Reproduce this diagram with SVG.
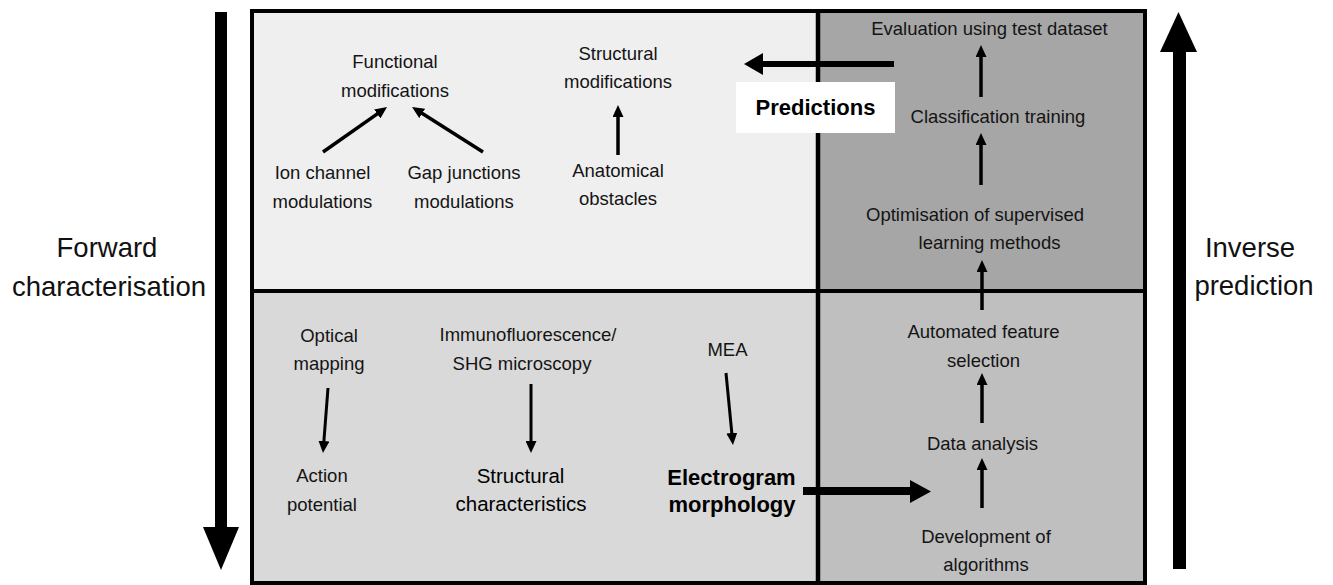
<svg xmlns="http://www.w3.org/2000/svg" width="1333" height="585" viewBox="0 0 1333 585">
<style>
.t{font-family:"Liberation Sans",Arial,sans-serif;font-size:18.5px;fill:#141414;text-anchor:middle}
.big{font-family:"Liberation Sans",Arial,sans-serif;font-size:27.5px;fill:#111;text-anchor:middle}
.ar{font-family:"Liberation Sans",Arial,sans-serif;font-size:20.5px;fill:#000;text-anchor:middle}
.arb{font-family:"Liberation Sans",Arial,sans-serif;font-size:22px;font-weight:bold;fill:#000;text-anchor:middle}
.c{stroke:#000;stroke-width:3.5;fill:none;marker-end:url(#ah)}
.c2{stroke:#000;stroke-width:3;fill:none;marker-end:url(#ah)}
</style>
<defs>
<marker id="ah" viewBox="0 0 12 11" markerWidth="12" markerHeight="11" markerUnits="userSpaceOnUse" refX="4" refY="5.5" orient="auto">
<path d="M0,0 L12,5.5 L0,11 z" fill="#000"/>
</marker>
</defs>
<rect width="1333" height="585" fill="#fff"/>
<g id="panels">
<rect x="252" y="11" width="566" height="280" fill="#efefef"/>
<rect x="818" y="11" width="327" height="280" fill="#a6a6a6"/>
<rect x="252" y="291" width="566" height="292" fill="#d9d9d9"/>
<rect x="818" y="291" width="327" height="292" fill="#bfbfbf"/>
<rect x="252" y="11" width="893" height="572" fill="none" stroke="#000" stroke-width="4"/>
<line x1="252" y1="291" x2="1145" y2="291" stroke="#000" stroke-width="4"/>
<line x1="818" y1="11" x2="818" y2="585" stroke="#000" stroke-width="4.5"/>
</g>
<g id="forward">
<rect x="215" y="12" width="12" height="517" fill="#000"/>
<polygon points="203,527 239,527 221,570" fill="#000"/>
<text class="big" x="107" y="257">Forward</text>
<text class="big" x="109" y="296">characterisation</text>
</g>
<g id="inverse">
<rect x="1173" y="50" width="13" height="519" fill="#000"/>
<polygon points="1160,52 1197,52 1178.5,12" fill="#000"/>
<text class="big" x="1250" y="257">Inverse</text>
<text class="big" x="1254" y="295">prediction</text>
</g>
<g id="connectors">
<line class="c" x1="323" y1="152" x2="380.5" y2="111.6"/>
<line class="c" x1="483" y1="152" x2="418.8" y2="111.3"/>
<line class="c" x1="618" y1="155" x2="618" y2="113"/>
<line class="c" x1="981" y1="97" x2="981" y2="53"/>
<line class="c" x1="981" y1="185" x2="981" y2="141"/>
<line class="c" x1="982" y1="310" x2="982" y2="268"/>
<line class="c" x1="982" y1="423" x2="982" y2="381"/>
<line class="c" x1="982" y1="508" x2="982" y2="466"/>
<line class="c2" x1="328" y1="388" x2="323.6" y2="445"/>
<line class="c2" x1="531" y1="384" x2="531" y2="445"/>
<line class="c2" x1="726" y1="373" x2="732.2" y2="437"/>
<rect x="762" y="61" width="132" height="6" fill="#000"/>
<polygon points="763,53 763,75 744,64" fill="#000"/>
<rect x="803" y="487" width="108" height="8" fill="#000"/>
<polygon points="910,480 910,503 931,491.5" fill="#000"/>
</g>
<g id="predictions">
<rect x="736" y="82" width="159" height="51" fill="#fff"/>
<text class="arb" x="815.5" y="115">Predictions</text>
</g>
<g id="functional"><text class="t" x="395" y="68">Functional</text><text class="t" x="395" y="97">modifications</text></g>
<g id="ion"><text class="t" x="322.5" y="179">Ion channel</text><text class="t" x="322.5" y="208">modulations</text></g>
<g id="gap"><text class="t" x="464" y="179">Gap junctions</text><text class="t" x="464" y="208">modulations</text></g>
<g id="structural-mod"><text class="t" x="618" y="60">Structural</text><text class="t" x="618" y="88">modifications</text></g>
<g id="anatomical"><text class="t" x="618" y="177">Anatomical</text><text class="t" x="618" y="205">obstacles</text></g>
<g id="evaluation"><text class="t" x="989.5" y="35">Evaluation using test dataset</text></g>
<g id="classification"><text class="t" x="998" y="123">Classification training</text></g>
<g id="optimisation"><text class="t" x="975" y="221">Optimisation of supervised</text><text class="t" x="989.5" y="249">learning methods</text></g>
<g id="automated"><text class="t" x="983.5" y="338">Automated feature</text><text class="t" x="983.5" y="367">selection</text></g>
<g id="data"><text class="t" x="982.5" y="450">Data analysis</text></g>
<g id="development"><text class="t" x="986" y="543">Development of</text><text class="t" x="986" y="571">algorithms</text></g>
<g id="optical"><text class="t" x="329" y="342">Optical</text><text class="t" x="329" y="370">mapping</text></g>
<g id="action"><text class="t" x="322" y="482">Action</text><text class="t" x="322" y="511">potential</text></g>
<g id="immuno"><text class="t" x="528" y="341">Immunofluorescence/</text><text class="t" x="522" y="370">SHG microscopy</text></g>
<g id="structural-char"><text class="ar" x="520.5" y="483">Structural</text><text class="ar" x="521" y="511">characteristics</text></g>
<g id="mea"><text class="t" x="727.5" y="356">MEA</text></g>
<g id="electrogram"><text class="arb" x="731.5" y="485">Electrogram</text><text class="arb" x="732" y="512">morphology</text></g>
</svg>
